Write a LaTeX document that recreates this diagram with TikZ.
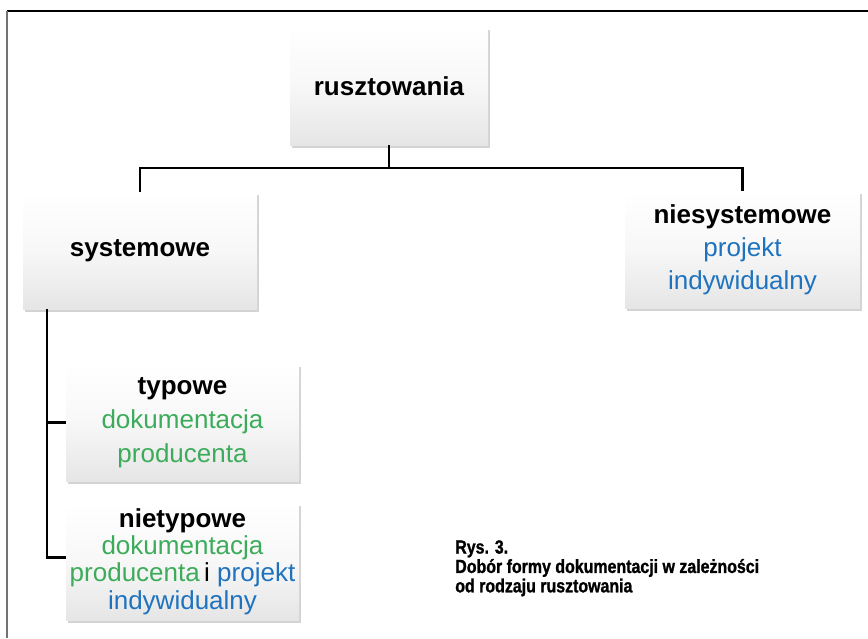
\documentclass[tikz,border=0pt]{standalone}
\usepackage{fontspec}
\setmainfont{Liberation Sans}
\newfontfamily\capfont{Liberation Sans}[FakeStretch=0.84, FakeBold=1.2]
\usetikzlibrary{shadows}
\definecolor{docgreen}{RGB}{60,172,90}
\definecolor{projblue}{RGB}{31,115,190}
\begin{document}
\begin{tikzpicture}[
  box/.style={align=center, inner sep=2pt, top color=white, bottom color=black!10,
              middle color=white!97!black,
              drop shadow={shadow xshift=1.6pt, shadow yshift=-2.4pt, opacity=0.35}},
  link/.style={line width=1.6pt},
]
\useasboundingbox (0,0) rectangle (21.7,-15.95);
\draw[line width=1.4pt] (0.175,-0.275) -- (21.7,-0.275);
\draw[line width=1.4pt, black!55] (0.175,-0.275) -- (0.175,-15.95);

\node[box, minimum width=4.95cm, minimum height=2.95cm,
      font=\fontsize{18.5}{24}\selectfont\bfseries]
      (root) at (9.725,-2.15) {rusztowania};
\node[box, minimum width=5.85cm, minimum height=2.925cm,
      font=\fontsize{18.5}{24}\selectfont\bfseries]
      (sys)  at (3.5,-6.2625) {systemowe};
\node[box, minimum width=5.875cm, minimum height=2.925cm,
      font=\fontsize{18.5}{23.5}\selectfont]
      (nsys) at (18.5625,-6.2375)
      {\textbf{niesystemowe}\\ \textcolor{projblue}{projekt}\\ \textcolor{projblue}{indywidualny}};
\node[box, minimum width=5.825cm, minimum height=2.925cm,
      font=\fontsize{18.5}{24}\selectfont]
      (typ)  at (4.5625,-10.5625)
      {\textbf{typowe}\\ \textcolor{docgreen}{dokumentacja}\\ \textcolor{docgreen}{producenta}};
\node[box, minimum width=5.825cm, minimum height=2.925cm,
      font=\fontsize{18.5}{19.5}\selectfont]
      (ntyp) at (4.5625,-14.0375)
      {\textbf{nietypowe}\\ \textcolor{docgreen}{dokumentacja}\\
       \textcolor{docgreen}{producenta}\,i \textcolor{projblue}{projekt}\\
       \textcolor{projblue}{indywidualny}};

\node[anchor=north west, align=left, inner sep=0pt,
      font=\capfont\fontsize{13.5}{13.8}\selectfont\bfseries]
      (cap) at (11.375,-13.5)
      {Rys. 3.\\ Dobór formy dokumentacji w zależności\\ od rodzaju rusztowania};

\draw[link] (root.south) -- ++(0,-0.575) -| (sys.north);
\draw[link] (root.south) -- ++(0,-0.575) -| (nsys.north);
\draw[link] ([xshift=0.6cm]sys.south west) |- (typ.west);
\draw[link] ([xshift=0.6cm]sys.south west) |- ([yshift=0.1cm]ntyp.west);
\end{tikzpicture}
\end{document}
